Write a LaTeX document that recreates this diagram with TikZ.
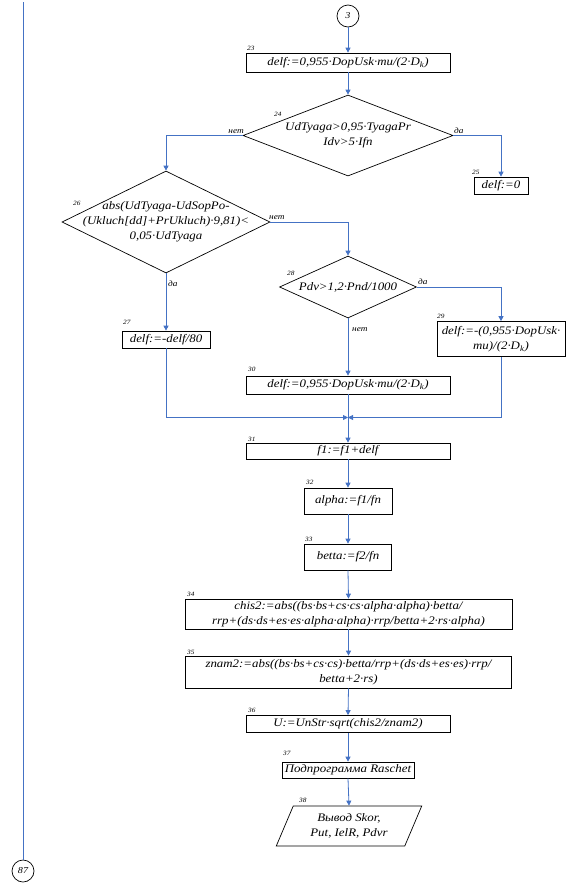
\documentclass[tikz,border=0pt]{standalone}
\usepackage{fontspec}
\setmainfont[FakeStretch=1.12]{Liberation Serif}
\usetikzlibrary{shapes.geometric,arrows.meta}
\definecolor{linkblue}{HTML}{4472C4}
\begin{document}
\begin{tikzpicture}[x=1pt,y=-1pt,
  every node/.style={font=\fontsize{11.5}{15}\selectfont\itshape},
  blk/.style={draw, line width=0.7pt, inner sep=0pt, align=center},
  dia/.style={draw, diamond, line width=0.7pt, inner sep=0pt},
  txt/.style={align=center, inner sep=0pt},
  num/.style={font=\fontsize{6.5}{7}\selectfont\itshape, anchor=base west, inner sep=0pt},
  yn/.style={font=\fontsize{8.3}{9}\selectfont\itshape, inner sep=0pt},
  arr/.style={draw=linkblue, line width=0.8pt, -{Triangle[length=5pt,width=5pt]}},
  ln/.style={draw=linkblue, line width=0.8pt},
  onpage/.style={draw, circle, line width=0.7pt, minimum size=22pt, inner sep=0pt, font=\fontsize{9}{10}\selectfont\itshape}
]
\useasboundingbox (0,0) rectangle (566,884);

% connectors circles
\node[onpage] (c3) at (348,16) {3};
\node[onpage] (c87) at (23,871) {87};
\coordinate (ltop) at (23,2);

% blocks
\node[blk, minimum width=204, minimum height=19] (b23) at (348,62.5) {delf:=0,955·DopUsk·mu/(2·D\textsubscript{k})};
\node[dia, minimum width=210, minimum height=81] (d24) at (348,135.5) {};
\node[txt] (t24) at (d24.center) {UdTyaga>0,95·TyagaPr\\Idv>5·Ifn};
\node[blk, minimum width=54, minimum height=17] (b25) at (501,185.5) {delf:=0};
\node[dia, minimum width=208, minimum height=102] (d26) at (166,222) {};
\node[txt] (t26) at (d26.center) {abs(UdTyaga-UdSopPo-\\(Ukluch[dd]+PrUkluch)·9,81)<\\0,05·UdTyaga};
\node[blk, minimum width=88, minimum height=17] (b27) at (166,339.5) {delf:=-delf/80};
\node[dia, minimum width=137, minimum height=62] (d28) at (348,287) {};
\node[txt] (t28) at (d28.center) {Pdv>1,2·Pnd/1000};
\node[blk, minimum width=128, minimum height=35] (b29) at (501,339) {delf:=-(0,955·DopUsk·\\mu)/(2·D\textsubscript{k})};
\node[blk, minimum width=204, minimum height=18] (b30) at (348,385) {delf:=0,955·DopUsk·mu/(2·D\textsubscript{k})};
\coordinate (mj) at (348,417.5);
\node[blk, minimum width=204, minimum height=16] (b31) at (348,451) {f1:=f1+delf};
\node[blk, minimum width=88, minimum height=26] (b32) at (348,501) {alpha:=f1/fn};
\node[blk, minimum width=87, minimum height=26] (b33) at (348,557) {betta:=f2/fn};
\node[blk, minimum width=327, minimum height=30] (b34) at (348.5,614) {chis2:=abs((bs·bs+cs·cs·alpha·alpha)·betta/\\rrp+(ds·ds+es·es·alpha·alpha)·rrp/betta+2·rs·alpha)};
\node[blk, minimum width=326, minimum height=32] (b35) at (348.5,672) {znam2:=abs((bs·bs+cs·cs)·betta/rrp+(ds·ds+es·es)·rrp/\\betta+2·rs)};
\node[blk, minimum width=204, minimum height=17] (b36) at (348,724) {U:=UnStr·sqrt(chis2/znam2)};
\node[blk, minimum width=132, minimum height=16] (b37) at (348,770) {Подпрограмма Raschet};
\node[draw, trapezium, trapezium stretches=true, trapezium left angle=64.6, trapezium right angle=115.4,
      minimum width=146, minimum height=40, line width=0.7pt, inner sep=0pt, align=center] (p38) at (349,826) {Вывод Skor,\\Put, IelR, Pdvr};

% number labels
\node[num] (n23) at (247,50) {23};
\node[num] (n24) at (274,116) {24};
\node[num] (n25) at (472,174) {25};
\node[num] (n26) at (73,205) {26};
\node[num] (n27) at (123,324) {27};
\node[num] (n28) at (287,275) {28};
\node[num] (n29) at (437,318) {29};
\node[num] (n30) at (248,371) {30};
\node[num] (n31) at (248,441) {31};
\node[num] (n32) at (306,484) {32};
\node[num] (n33) at (305,541) {33};
\node[num] (n34) at (187,596) {34};
\node[num] (n35) at (187,654) {35};
\node[num] (n36) at (248,712) {36};
\node[num] (n37) at (283,755) {37};
\node[num] (n38) at (299,802) {38};

% yes/no labels
\node[yn, anchor=base east] (y24n) at (244,133) {нет};
\node[yn, anchor=base west] (y24y) at (454,133) {да};
\node[yn, anchor=base west] (y26n) at (269,219) {нет};
\node[yn, anchor=base west] (y26y) at (168,286) {да};
\node[yn, anchor=base west] (y28y) at (418,284) {да};
\node[yn, anchor=base west] (y28n) at (352,331) {нет};

% connectors
\draw[ln] (ltop) -- (c87.north);
\draw[arr] (c3.south) -- (b23.north);
\draw[arr] (b23.south) -- (d24.north);
\draw[arr] (d24.west) -| (d26.north);
\draw[arr] (d24.east) -| (b25.north);
\draw[arr] (d26.east) -| (d28.north);
\draw[arr] (d26.south) -- (b27.north);
\draw[arr] (d28.east) -| (b29.north);
\draw[arr] (d28.south) -- (b30.north);
\draw[arr] (b27.south) |- (mj);
\draw[arr] (b29.south) |- (mj);
\draw[arr] (b30.south) -- (b31.north);
\draw[arr] (b31.south) -- (b32.north);
\draw[arr] (b32.south) -- (b33.north);
\draw[arr] (b33.south) -- (b34.north);
\draw[arr] (b34.south) -- (b35.north);
\draw[arr] (b35.south) -- (b36.north);
\draw[arr] (b36.south) -- (b37.north);
\draw[arr] (b37.south) -- (p38.north);
\end{tikzpicture}
\end{document}
